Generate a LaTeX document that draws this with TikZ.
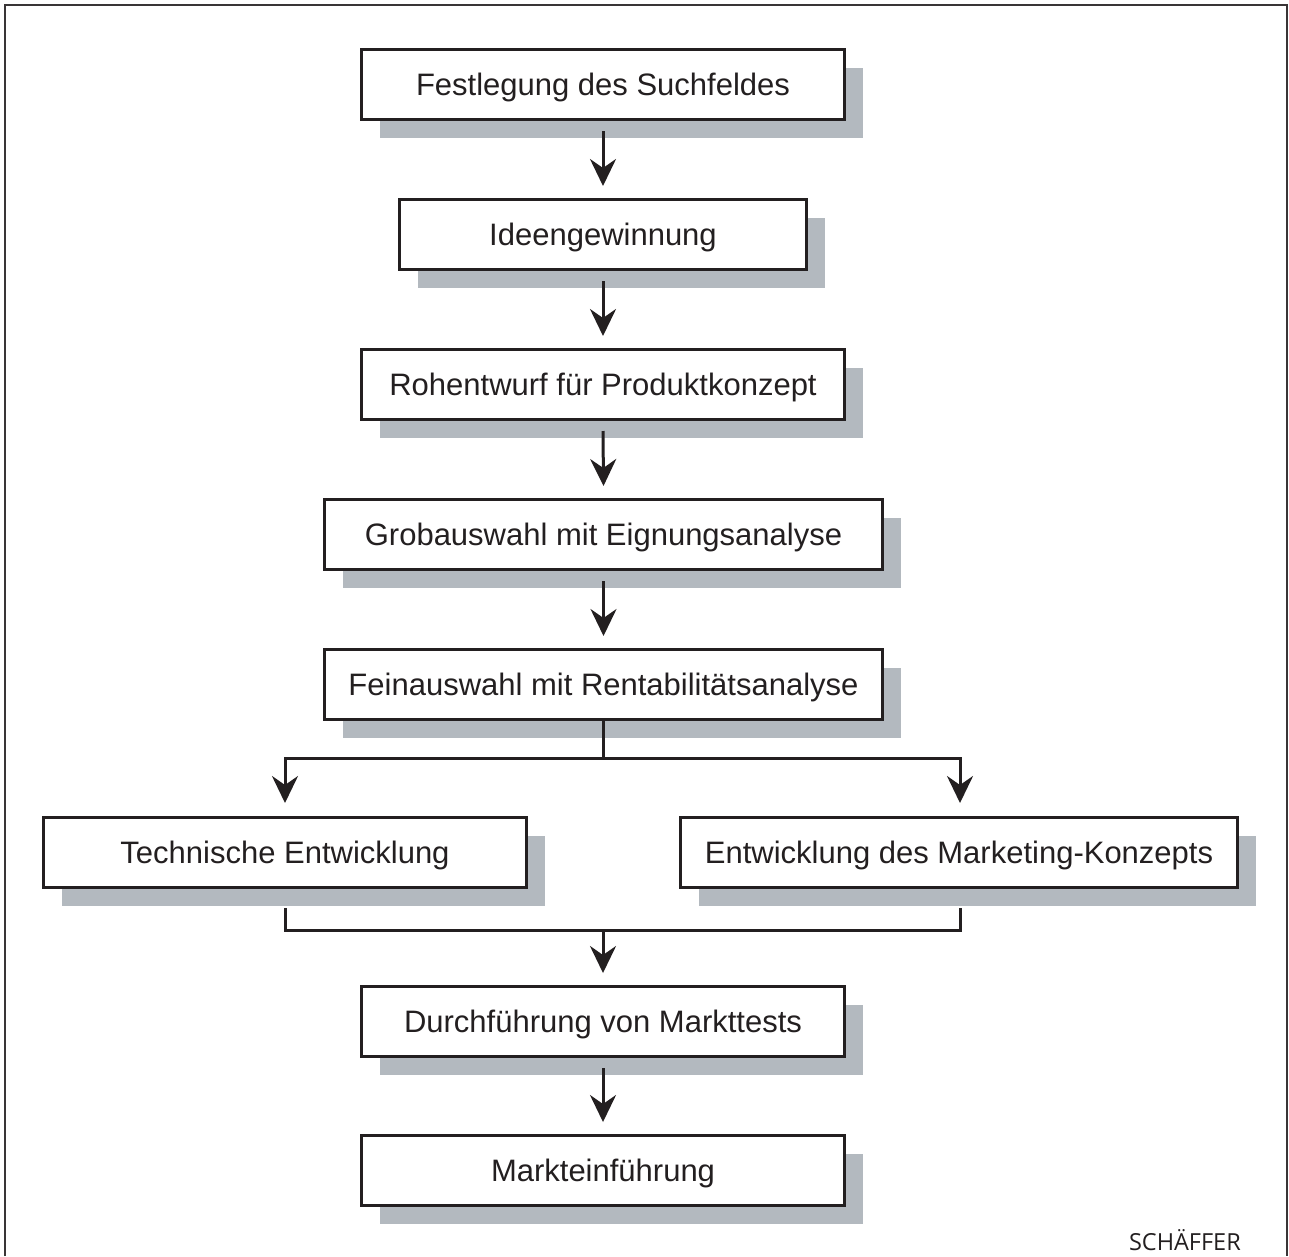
\documentclass[tikz,border=0pt]{standalone}
\usepackage{fontspec}
\setmainfont{Liberation Sans}
\newfontfamily\brandfont{Open Sans}
\usetikzlibrary{arrows.meta,shadows,calc}
\definecolor{ink}{HTML}{231F20}
\definecolor{shade}{HTML}{B3B9BF}
\tikzset{
  stepbox/.style={draw=ink, line width=3pt, fill=white, inner sep=0pt,
    minimum height=70pt, text=ink, text height=21pt, text depth=-1pt,
    font=\fontsize{31}{36}\selectfont,
    drop shadow={shadow xshift=18pt, shadow yshift=-18pt, fill=shade, opacity=1}},
  flow/.style={draw=ink, line width=3pt},
  arr/.style={flow, -{Stealth[length=27pt, width=26pt, inset=9pt]}}
}
\begin{document}
\begin{tikzpicture}[x=1pt,y=-1pt]
  % page area and open frame
  \useasboundingbox (0,0) rectangle (1289,1256);
  \draw[ink!90, line width=2.5pt] (5,1256) -- (5,5) -- (1287,5) -- (1287,1256);

  % process steps
  \node[stepbox, minimum width=483pt] (b1) at (603,84.5) {Festlegung des Suchfeldes};
  \node[stepbox, minimum width=407pt] (b2) at (603,234.5) {Ideengewinnung};
  \node[stepbox, minimum width=483pt] (b3) at (603,384.5) {Rohentwurf für Produktkonzept};
  \node[stepbox, minimum width=558pt] (b4) at (603.5,534.5) {Grobauswahl mit Eignungsanalyse};
  \node[stepbox, minimum width=558pt] (b5) at (603.5,684.5) {Feinauswahl mit Rentabilitätsanalyse};
  \node[stepbox, minimum width=483pt] (b6) at (285,852.5) {Technische Entwicklung};
  \node[stepbox, minimum width=557pt] (b7) at (959,852.5) {Entwicklung des Marketing-Konzepts};
  \node[stepbox, minimum width=483pt] (b8) at (603,1021.5) {Durchführung von Markttests};
  \node[stepbox, minimum width=483pt] (b9) at (603,1170.5) {Markteinführung};

  % straight connectors
  \draw[arr] ($(b1.south)+(0,10)$) -- ($(b2.north)+(0,-12)$);
  \draw[arr] ($(b2.south)+(0,10)$) -- ($(b3.north)+(0,-12)$);
  \draw[arr] ($(b3.south)+(0,10)$) -- ($(b4.north)+(0,-12)$);
  \draw[arr] ($(b4.south)+(0,10)$) -- ($(b5.north)+(0,-12)$);

  % fork into the two parallel developments
  \coordinate (fork) at ($(b5.south)+(-0.5,37)$);
  \draw[flow] ($(b5.south)+(-0.5,0)$) -- (fork);
  \draw[arr] (fork) -| ($(b6.north)+(0,-13)$);
  \draw[arr] (fork) -| ($(b7.north)+(1,-13)$);

  % join back into the market tests
  \coordinate (join) at ($(b6.south -| b8.north)+(0,41)$);
  \draw[flow] ($(b6.south)+(0,19)$) |- (join) -| ($(b7.south)+(1,19)$);
  \draw[arr] (join) -- ($(b8.north)+(0,-12)$);
  \draw[arr] ($(b8.south)+(0,10)$) -- ($(b9.north)+(0,-12)$);

  % publisher mark
  \node[anchor=base east, text=ink, inner sep=0pt,
        font=\brandfont\fontsize{23.5}{27}\selectfont] (brand) at (1241,1250) {SCHÄFFER};
\end{tikzpicture}
\end{document}
